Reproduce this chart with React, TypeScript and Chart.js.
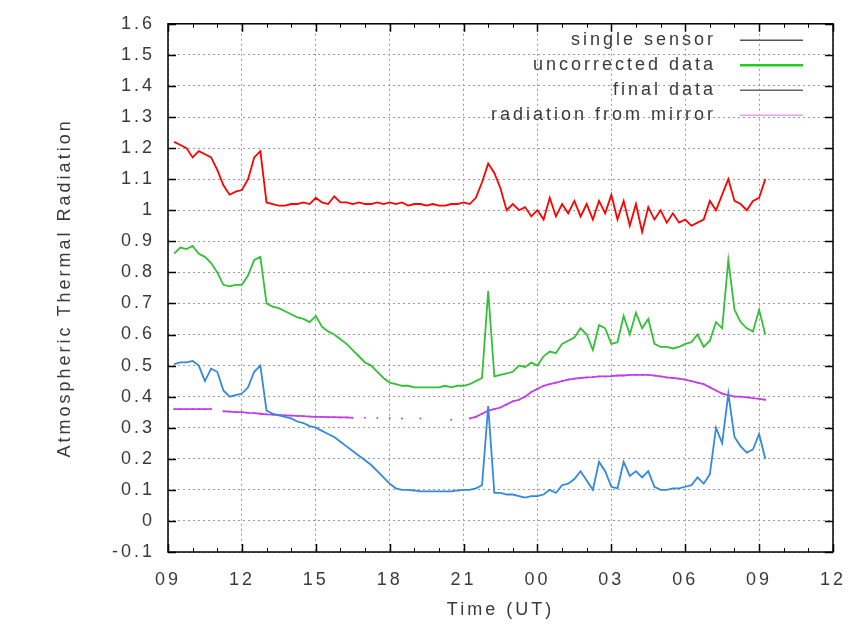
import { useEffect, useRef } from 'react';
import { Chart, registerables } from 'chart.js';

Chart.register(...registerables);

// time in hours since 00 UT of day 1 (values > 24 belong to the next day)
const hours = [
  9.25, 9.5, 9.75,
  10, 10.25, 10.5, 10.75, 11, 11.25, 11.5, 11.75, 12, 12.25, 12.5, 12.75,
  13, 13.25, 13.5, 13.75, 14, 14.25, 14.5, 14.75, 15, 15.25, 15.5, 15.75,
  16, 16.25, 16.5, 16.75, 17, 17.25, 17.5, 17.75, 18, 18.25, 18.5, 18.75,
  19, 19.25, 19.5, 19.75, 20, 20.25, 20.5, 20.75, 21, 21.25, 21.5, 21.75,
  22, 22.25, 22.5, 22.75, 23, 23.25, 23.5, 23.75, 24, 24.25, 24.5, 24.75,
  25, 25.25, 25.5, 25.75, 26, 26.25, 26.5, 26.75, 27, 27.25, 27.5, 27.75,
  28, 28.25, 28.5, 28.75, 29, 29.25, 29.5, 29.75, 30, 30.25, 30.5, 30.75,
  31, 31.25, 31.5, 31.75, 32, 32.25, 32.5, 32.75, 33, 33.25,
];

const singleSensor = [
  1.22, 1.21, 1.20,
  1.17, 1.19, 1.18, 1.17, 1.13, 1.08, 1.05, 1.06, 1.065, 1.10, 1.17, 1.19,
  1.025, 1.02, 1.015, 1.015, 1.02, 1.02, 1.025, 1.02, 1.04, 1.025, 1.02, 1.045,
  1.025, 1.025, 1.02, 1.025, 1.02, 1.02, 1.025, 1.02, 1.025, 1.02, 1.025, 1.015,
  1.02, 1.02, 1.015, 1.02, 1.015, 1.015, 1.02, 1.02, 1.025, 1.02, 1.04, 1.09,
  1.15, 1.12, 1.07, 1.0, 1.02, 1.0, 1.01, 0.98, 1.0, 0.97, 1.04, 0.98,
  1.02, 0.99, 1.03, 0.98, 1.02, 0.97, 1.03, 0.99, 1.05, 0.97, 1.03, 0.95,
  1.02, 0.93, 1.01, 0.97, 1.0, 0.96, 0.99, 0.96, 0.97, 0.95, 0.96, 0.97,
  1.03, 1.0, 1.05, 1.1, 1.03, 1.02, 1.0, 1.03, 1.04, 1.1,
];

const uncorrected = [
  0.86, 0.88, 0.875,
  0.885, 0.86, 0.85, 0.83, 0.80, 0.76, 0.755, 0.76, 0.76, 0.79, 0.84, 0.85,
  0.70, 0.69, 0.685, 0.675, 0.665, 0.655, 0.65, 0.64, 0.66, 0.625, 0.61, 0.60,
  0.585, 0.57, 0.55, 0.53, 0.51, 0.50, 0.48, 0.46, 0.445, 0.44, 0.435, 0.435,
  0.43, 0.43, 0.43, 0.43, 0.43, 0.435, 0.43, 0.435, 0.435, 0.44, 0.45, 0.46,
  0.74, 0.465, 0.47, 0.475, 0.48, 0.50, 0.495, 0.51, 0.50, 0.53, 0.545, 0.54,
  0.57, 0.58, 0.59, 0.62, 0.60, 0.55, 0.63, 0.62, 0.57, 0.575, 0.66, 0.60,
  0.67, 0.62, 0.65, 0.57, 0.56, 0.56, 0.555, 0.56, 0.57, 0.575, 0.60, 0.56,
  0.58, 0.64, 0.62, 0.84, 0.68, 0.64, 0.62, 0.61, 0.68, 0.60,
];

const finalData = [
  0.505, 0.51, 0.51,
  0.515, 0.50, 0.45, 0.49, 0.48, 0.42, 0.40, 0.405, 0.41, 0.43, 0.48, 0.50,
  0.355, 0.345, 0.34, 0.335, 0.33, 0.32, 0.315, 0.305, 0.30, 0.29, 0.28, 0.27,
  0.255, 0.24, 0.225, 0.21, 0.195, 0.18, 0.16, 0.14, 0.12, 0.105, 0.10, 0.10,
  0.098, 0.095, 0.095, 0.095, 0.095, 0.095, 0.095, 0.098, 0.10, 0.10, 0.105, 0.115,
  0.37, 0.09, 0.09, 0.085, 0.085, 0.08, 0.075, 0.08, 0.08, 0.085, 0.10, 0.09,
  0.115, 0.12, 0.135, 0.16, 0.13, 0.10, 0.19, 0.16, 0.11, 0.105, 0.19, 0.145,
  0.16, 0.14, 0.16, 0.11, 0.10, 0.10, 0.105, 0.105, 0.11, 0.115, 0.14, 0.12,
  0.15, 0.30, 0.25, 0.41, 0.27, 0.24, 0.22, 0.23, 0.28, 0.20,
];

const mirror = [
  0.36, 0.36, 0.36,
  0.36, 0.36, 0.36, 0.36, null, 0.353, 0.352, 0.35, 0.35, 0.348, 0.347, 0.345,
  0.343, 0.342, 0.341, 0.34, 0.339, 0.338, 0.337, 0.336, 0.335, 0.335, 0.334, 0.334,
  0.333, 0.333, 0.332, null, 0.332, null, 0.331, null, 0.331, null, 0.33, null,
  null, 0.33, null, null, null, null, 0.326, null, null, 0.33, 0.335, 0.345,
  0.355, 0.36, 0.365, 0.375, 0.385, 0.39, 0.40, 0.415, 0.425, 0.435, 0.44, 0.445,
  0.45, 0.455, 0.458, 0.46, 0.462, 0.463, 0.465, 0.465, 0.466, 0.468, 0.468, 0.47,
  0.47, 0.47, 0.47, 0.468, 0.465, 0.462, 0.46, 0.458, 0.455, 0.45, 0.445, 0.44,
  0.43, 0.42, 0.41, 0.405, 0.40, 0.40, 0.398, 0.395, 0.393, 0.39,
];

const seriesLabels = ['single sensor', 'uncorrected data', 'final data', 'radiation from mirror'];
const legendColors = ['#555555', '#22cc22', '#666666', '#e8a0f4'];
const lineColors = ['#ff0000', '#33c033', '#3388e0', '#c040e8'];

const xTickLabels = ['09', '12', '15', '18', '21', '00', '03', '06', '09', '12'];
const yTickLabels = [
  '-0.1', '0', '0.1', '0.2', '0.3', '0.4', '0.5', '0.6', '0.7', '0.8', '0.9',
  '1', '1.1', '1.2', '1.3', '1.4', '1.5', '1.6',
];

const FONT = '"Liberation Sans", Arial, sans-serif';
const TEXT = '#3a3a3a';

const spacingPlugin = {
  id: 'letterSpacing',
  beforeLayout(chart: any) { chart.ctx.letterSpacing = '3px'; },
  beforeDraw(chart: any) { chart.ctx.letterSpacing = '3px'; },
};

const framePlugin = {
  id: 'gnuFrame',
  afterDatasetsDraw(chart: any) {
    const { ctx, chartArea: a, scales } = chart;
    const xs = scales.x;
    const ys = scales.y;
    ctx.save();
    ctx.strokeStyle = '#000';
    ctx.lineWidth = 1.5;
    ctx.beginPath();
    ys.ticks.forEach((t: any) => {
      const y = Math.round(ys.getPixelForValue(t.value)) + 0.5;
      ctx.moveTo(a.left, y); ctx.lineTo(a.left + 8, y);
      ctx.moveTo(a.right, y); ctx.lineTo(a.right - 8, y);
    });
    xs.ticks.forEach((t: any) => {
      const x = Math.round(xs.getPixelForValue(t.value)) + 0.5;
      ctx.moveTo(x, a.bottom); ctx.lineTo(x, a.bottom - 8);
      ctx.moveTo(x, a.top); ctx.lineTo(x, a.top + 8);
    });
    ctx.stroke();
    ctx.lineWidth = 1;
    ctx.beginPath();
    for (let h = xs.min; h <= xs.max; h += 1) {
      if ((h - xs.min) % 3 === 0) continue;
      const x = Math.round(xs.getPixelForValue(h)) + 0.5;
      ctx.moveTo(x, a.bottom); ctx.lineTo(x, a.bottom - 4);
      ctx.moveTo(x, a.top); ctx.lineTo(x, a.top + 4);
    }
    ctx.stroke();
    ctx.lineWidth = 1.5;
    ctx.strokeRect(a.left, a.top, a.right - a.left, a.bottom - a.top);

    // legend (gnuplot style: right-aligned text, sample line on the right)
    ctx.font = `18px ${FONT}`;
    ctx.letterSpacing = '3px';
    ctx.textAlign = 'right';
    ctx.textBaseline = 'middle';
    seriesLabels.forEach((label, i) => {
      const y = a.top + 16 + i * 25;
      ctx.fillStyle = TEXT;
      ctx.fillText(label, a.right - 117, y);
      ctx.strokeStyle = legendColors[i];
      ctx.lineWidth = i === 1 ? 2.5 : 1.5;
      ctx.beginPath();
      ctx.moveTo(a.right - 93, y + 0.5);
      ctx.lineTo(a.right - 30, y + 0.5);
      ctx.stroke();
    });
    ctx.restore();
  },
};

export default function App() {
  const ref = useRef<HTMLCanvasElement | null>(null);

  useEffect(() => {
    if (!ref.current) return;
    const series = [singleSensor, uncorrected, finalData, mirror];
    const chart = new Chart(ref.current, {
      type: 'line',
      data: {
        datasets: series.map((vals, i) => ({
          label: seriesLabels[i],
          data: hours.map((h, j) => ({ x: h, y: vals[j] })),
          borderColor: lineColors[i],
          backgroundColor: lineColors[i],
          borderWidth: 1.8,
          pointRadius: i === 3 ? 1 : 0,
          pointBorderWidth: 0,
          tension: 0,
          spanGaps: false,
        })),
      },
      options: {
        responsive: false,
        animation: false,
        devicePixelRatio: 1,
        layout: { padding: { top: 17, right: 33, left: 0, bottom: 0 } },
        plugins: {
          legend: { display: false },
          tooltip: { enabled: false },
        },
        scales: {
          x: {
            type: 'linear',
            min: 9,
            max: 36,
            afterFit: (s: any) => { s.height = 77; },
            ticks: {
              stepSize: 3,
              padding: 17,
              color: TEXT,
              font: { family: FONT, size: 18 },
              maxRotation: 0,
              autoSkip: false,
              callback: (_v: any, i: number) => xTickLabels[i] ?? '',
            },
            grid: { color: '#9a9a9a', lineWidth: 1, drawTicks: false },
            border: { display: false, dash: [2, 3] },
            title: {
              display: true,
              text: 'Time (UT)',
              color: TEXT,
              font: { family: FONT, size: 18 },
              padding: { top: 0, bottom: 8 },
            },
          },
          y: {
            type: 'linear',
            min: -0.1,
            max: 1.6,
            afterFit: (s: any) => { s.width = 168; },
            ticks: {
              stepSize: 0.1,
              padding: 13,
              color: TEXT,
              font: { family: FONT, size: 18 },
              autoSkip: false,
              callback: (_v: any, i: number) => yTickLabels[i] ?? '',
            },
            grid: { color: '#9a9a9a', lineWidth: 1, drawTicks: false },
            border: { display: false, dash: [2, 3] },
            title: {
              display: true,
              text: 'Atmospheric Thermal Radiation',
              color: TEXT,
              font: { family: FONT, size: 18 },
              padding: { top: 54, bottom: 0 },
            },
          },
        },
      },
      plugins: [spacingPlugin, framePlugin],
    });
    return () => chart.destroy();
  }, []);

  return (
    <div style={{ position: 'absolute', left: 0, top: 0, width: 866, height: 629, background: '#fff' }}>
      <canvas ref={ref} width={866} height={629} style={{ width: 866, height: 629, display: 'block' }} />
    </div>
  );
}
